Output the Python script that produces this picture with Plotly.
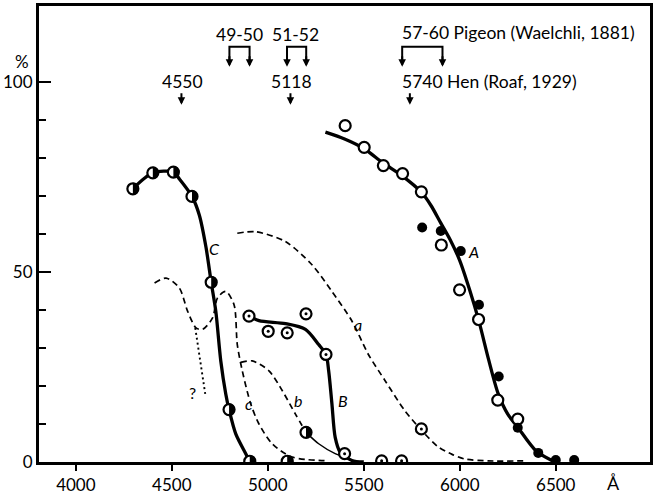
import plotly.graph_objects as go

# Wavelength in Å, response in %
# Curve A (solid) with its two sets of observations
A_line_x = [5300, 5400, 5500, 5600, 5700, 5800, 5850, 5900, 5950, 6000, 6050, 6100, 6150, 6200, 6250, 6300, 6400, 6495]
A_line_y = [86.8, 85.0, 82.5, 78.7, 75.3, 71.0, 67.5, 63.0, 58.5, 53.0, 45.5, 37.0, 27.0, 18.0, 12.6, 9.3, 2.8, 0.0]
A_open_x = [5403, 5502, 5602, 5702, 5800, 5904, 5999, 6098, 6198, 6302]
A_open_y = [88.5, 82.8, 78.0, 75.9, 71.1, 57.1, 45.3, 37.5, 16.3, 11.3]
A_filled_x = [5804, 5901, 6005, 6100, 6203, 6302, 6409, 6500, 6596]
A_filled_y = [61.7, 60.8, 55.5, 41.4, 22.5, 9.0, 2.4, 0.5, 0.5]

# Curve B (solid) with dotted-circle observations
B_line_x = [4902, 4954, 5092, 5196, 5265, 5303, 5317, 5334, 5351, 5377, 5438, 5500]
B_line_y = [38.4, 37.2, 36.4, 34.9, 30.9, 28.3, 24.0, 15.3, 6.5, 2.6, 0.4, 0.0]
B_pts_x = [4902, 5002, 5101, 5199, 5303, 5400, 5593, 5697, 5800]
B_pts_y = [38.4, 34.4, 34.0, 39.0, 28.3, 2.2, 0.3, 0.3, 8.7]

# Curve C (solid) with half-filled observations
C_line_x = [4297, 4401, 4508, 4539, 4605, 4643, 4678, 4705, 4729, 4755, 4781, 4798, 4833, 4885, 4906]
C_line_y = [71.9, 76.1, 76.3, 74.5, 69.9, 65.0, 56.5, 47.3, 39.7, 26.6, 17.9, 13.8, 7.4, 2.2, 0.2]
C_pts_x = [4297, 4401, 4508, 4605, 4705, 4798, 4906, 5101]
C_pts_y = [71.9, 76.1, 76.3, 69.9, 47.3, 13.8, 0.2, 0.2]

# Dashed curves a, b, c and the dotted branch
a_x = [4841, 4937, 5092, 5230, 5334, 5438, 5524, 5611, 5714, 5818, 5887, 5960, 6025, 6146, 6350]
a_y = [60.2, 60.6, 58.0, 51.9, 44.9, 37.1, 28.3, 21.4, 13.5, 7.4, 4.0, 2.0, 0.8, 0.3, 0.3]
b_dash_x = [4859, 4919, 5006, 5075, 5144, 5199]
b_dash_y = [26.2, 26.6, 24.0, 18.8, 12.6, 7.8]
b_tail_x = [5199, 5265, 5351, 5403]
b_tail_y = [7.8, 4.8, 2.2, 1.3]
b_pt_x = [5199]
b_pt_y = [7.8]
c_x = [4410, 4470, 4539, 4582, 4626, 4660, 4712, 4738, 4781, 4824, 4841, 4867, 4911, 4954, 5023, 5127, 5317]
c_y = [47.1, 48.4, 45.8, 39.7, 35.3, 34.9, 37.9, 43.2, 44.9, 41.4, 30.9, 24.0, 15.3, 10.0, 4.8, 1.3, 0.3]
dot_x = [4622, 4674]
dot_y = [35.3, 17.9]

# Curve letters
curve_labels = ["<i>A</i>", "<i>B</i>", "<i>C</i>", "<i>a</i>", "<i>b</i>", "<i>c</i>", "?"]
curve_label_x = [6074, 5394, 4720, 5472, 5156, 4900, 4608]
curve_label_y = [55.3, 16.1, 56.2, 36.2, 16.1, 15.3, 18.3]

# Literature maxima marked at the top
single_arrow_x = [4550, 5118, 5740]
bracket_pairs = [(4800, 4905), (5100, 5200), (5700, 5910)]
top_texts = ["4550", "49-50", "51-52", "5118", "57-60 Pigeon (Waelchli, 1881)", "5740 Hen (Roaf, 1929)"]
top_text_x = [4555, 4850, 5145, 5125, 5686, 5691]
top_text_y = [100.2, 112.5, 112.5, 100.2, 113.0, 100.2]
top_text_anchor = ["center", "center", "center", "center", "left", "left"]

x_ticks = [4000, 4500, 5000, 5500, 6000, 6500]

FONT = "Lato"
INK = "black"

fig = go.Figure()

def line(x, y, width, dash="solid"):
    fig.add_trace(go.Scatter(x=x, y=y, mode="lines", line=dict(color=INK, width=width, dash=dash, shape="spline", smoothing=0.8),
                             hoverinfo="skip", showlegend=False))

line(a_x, a_y, 1.7, "6px,4px")
line(b_dash_x, b_dash_y, 1.7, "6px,4px")
line(b_tail_x, b_tail_y, 1.5)
line(c_x, c_y, 1.7, "6px,4px")
line(dot_x, dot_y, 1.9, "2px,3px")
line(A_line_x, A_line_y, 3.3)
line(B_line_x, B_line_y, 3.3)
line(C_line_x, C_line_y, 3.3)

def markers(x, y, size, fill, lw):
    fig.add_trace(go.Scatter(x=x, y=y, mode="markers",
                             marker=dict(symbol="circle", size=size, color=fill, line=dict(color=INK, width=lw)),
                             hoverinfo="skip", showlegend=False))

# open and filled circles of curve A
markers(A_open_x, A_open_y, 11, "white", 2.2)
markers(A_filled_x, A_filled_y, 10, INK, 0)
# circles with a centre dot for curve B
markers(B_pts_x, B_pts_y, 11, "white", 2.2)
markers(B_pts_x, B_pts_y, 3, INK, 0)
# half-filled circles (white disc, right half filled as a shape)
half_x = C_pts_x + b_pt_x
half_y = C_pts_y + b_pt_y
markers(half_x, half_y, 11, "white", 2.2)
r, k = 6.0, 0.5523 * 6.0
half_path = f"M0,{-r} C{k},{-r} {r},{-k} {r},0 C{r},{k} {k},{r} 0,{r} Z"
for hx, hy in zip(half_x, half_y):
    fig.add_shape(type="path", xref="x", yref="y", xsizemode="pixel", ysizemode="pixel",
                  xanchor=hx, yanchor=hy, path=half_path, fillcolor=INK, line=dict(width=0))

# curve letters
for t, lx, ly in zip(curve_labels, curve_label_x, curve_label_y):
    fig.add_annotation(x=lx, y=ly, text=t, showarrow=False, font=dict(family=FONT, size=16, color=INK))

# texts at the top
for t, tx, ty, anc in zip(top_texts, top_text_x, top_text_y, top_text_anchor):
    fig.add_annotation(x=tx, y=ty, text=t, showarrow=False, xanchor=anc, yanchor="middle",
                       font=dict(family=FONT, size=17.5, color=INK))

# single downward arrows
for sx in single_arrow_x:
    fig.add_annotation(x=sx, y=94.0, ax=0, ay=-13, text="", showarrow=True, arrowhead=2,
                       arrowsize=0.75, arrowwidth=2, arrowcolor=INK)

# bracketed pairs of arrows
for x1, x2 in bracket_pairs:
    fig.add_trace(go.Scatter(x=[x1, x1, x2, x2], y=[105.5, 109.3, 109.3, 105.5], mode="lines",
                             line=dict(color=INK, width=2), hoverinfo="skip", showlegend=False))
    for bx in (x1, x2):
        fig.add_annotation(x=bx, y=104.0, ax=0, ay=-12, text="", showarrow=True, arrowhead=2,
                           arrowsize=0.75, arrowwidth=2, arrowcolor=INK)

# axis unit labels
fig.add_annotation(xref="paper", yref="paper", x=-(39 - 22) / 614, y=1.0 - (62 - 6) / 459, text="%",
                   xanchor="center", yanchor="middle", showarrow=False,
                   font=dict(family=FONT, size=17, color=INK))
fig.add_annotation(x=6800, yref="paper", y=-(486 - 465) / 459, text="Å", showarrow=False,
                   xanchor="center", yanchor="middle",
                   font=dict(family=FONT, size=18, color=INK))

fig.update_layout(
    width=656, height=498,
    margin=dict(l=39, r=3, t=6, b=33),
    paper_bgcolor="white", plot_bgcolor="white",
    font=dict(family=FONT, size=17, color=INK),
    xaxis=dict(range=[3808, 6991], tickvals=x_ticks, ticks="outside", ticklen=6, tickwidth=2,
               tickcolor=INK, showgrid=False, zeroline=False, showline=True, linewidth=3,
               linecolor=INK, mirror=True, tickfont=dict(family=FONT, size=17)),
    yaxis=dict(range=[0, 120], tickvals=[0, 50, 100], ticks="inside", ticklen=12, tickwidth=2,
               tickcolor=INK, showgrid=False, zeroline=False, showline=True, linewidth=3,
               linecolor=INK, mirror=True, tickfont=dict(family=FONT, size=17),
               minor=dict(tickvals=[10, 20, 30, 40, 60, 70, 80, 90], ticks="inside", ticklen=7,
                          tickwidth=2, tickcolor=INK, showgrid=False)),
)

fig.write_html("out.html")
